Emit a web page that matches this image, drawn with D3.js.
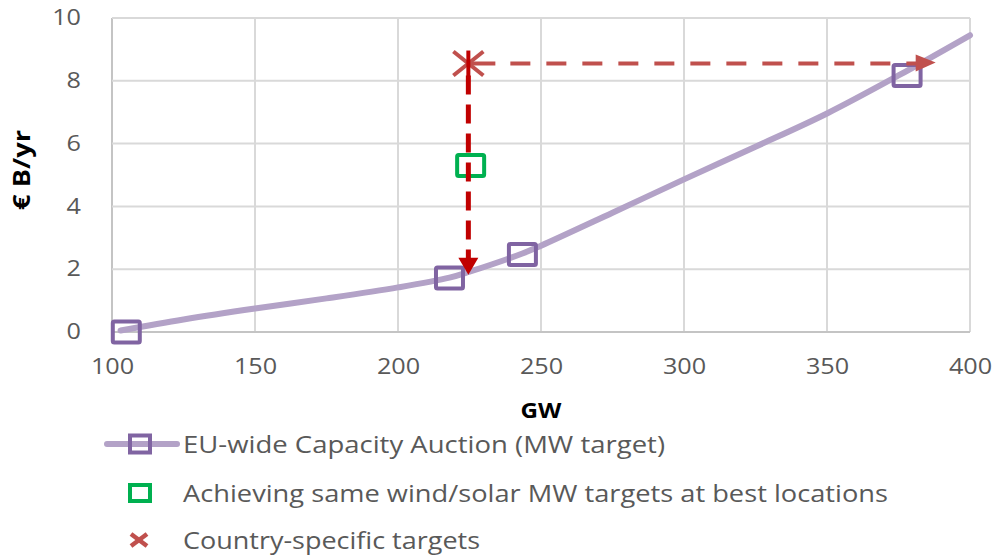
<!DOCTYPE html>
<html>
<head>
<meta charset="utf-8">
<script src="https://cdn.jsdelivr.net/npm/d3@7"></script>
<style>
  html, body { margin: 0; padding: 0; background: #fff; }
  svg { display: block; font-family: "Open Sans", "Liberation Sans", sans-serif; }
</style>
</head>
<body>
<svg id="chart" width="1002" height="555"></svg>
<script>
// Axis ticks
const xTicks = [100, 150, 200, 250, 300, 350, 400];
const yTicks = [0, 2, 4, 6, 8, 10];

// Cost curve of the EU-wide capacity auction (GW vs € B/yr)
const curveGW   = [103, 125, 150, 175, 200, 218, 225, 243.5, 250, 275, 300, 325, 350, 375, 400];
const curveCost = [0.05, 0.4, 0.75, 1.07, 1.42, 1.73, 1.92, 2.5, 2.75, 3.8, 4.86, 5.9, 6.96, 8.17, 9.45];

// Marked auction scenarios
const auctionGW   = [105, 218, 243.5, 378];
const auctionCost = [0, 1.72, 2.47, 8.17];

// Same wind/solar MW targets at best locations
const bestGW   = [225.4];
const bestCost = [5.3];

// Country-specific targets
const countryGW   = [224.6];
const countryCost = [8.55];

// Arrow ends: down to the auction curve, across to the auction of equal cost
const arrowDownCost = 1.82;
const arrowAcrossGW = 388;

const legendLabels = [
  "EU-wide Capacity Auction (MW target)",
  "Achieving same wind/solar MW targets at best locations",
  "Country-specific targets"
];

const svg = d3.select("#chart");
const m = { left: 112, top: 18, right: 970, bottom: 332 };

const x = d3.scaleLinear().domain([100, 400]).range([m.left, m.right]);
const y = d3.scaleLinear().domain([0, 10]).range([m.bottom, m.top]);

// Widen text horizontally by factor k
function stretch(sel, k) {
  sel.each(function () {
    const w = this.getComputedTextLength();
    d3.select(this).attr("textLength", w * k).attr("lengthAdjust", "spacingAndGlyphs");
  });
}

// Grid
const grid = svg.append("g");
grid.selectAll("line.v").data(xTicks).join("line")
  .attr("x1", d => x(d)).attr("x2", d => x(d))
  .attr("y1", m.top).attr("y2", m.bottom)
  .attr("stroke", d => d === 100 ? "#c4c4c4" : "#d9d9d9").attr("stroke-width", 2);
grid.selectAll("line.h").data(yTicks).join("line")
  .attr("x1", m.left).attr("x2", m.right)
  .attr("y1", d => y(d)).attr("y2", d => y(d))
  .attr("stroke", d => d === 0 ? "#c4c4c4" : "#d9d9d9").attr("stroke-width", 2);

// Axes (labels only)
const xAxis = svg.append("g").attr("transform", `translate(0,${m.bottom})`)
  .call(d3.axisBottom(x).tickValues(xTicks).tickSize(0).tickPadding(35).tickFormat(d3.format("d")));
const yAxis = svg.append("g").attr("transform", `translate(${m.left},0)`)
  .call(d3.axisLeft(y).tickValues(yTicks).tickSize(0).tickPadding(31).tickFormat(d3.format("d")));
[xAxis, yAxis].forEach(a => {
  a.select(".domain").remove();
  a.selectAll("text").attr("fill", "#595959").style("font-size", "21px")
    .style("font-family", "'Open Sans', sans-serif");
});
xAxis.selectAll("text").attr("dy", "0.32em");
stretch(xAxis.selectAll("text"), 1.2);
stretch(yAxis.selectAll("text"), 1.2);

// Axis titles
const gw = svg.append("text").attr("x", x(250)).attr("y", 418)
  .attr("text-anchor", "middle").attr("font-weight", "bold").attr("font-size", 21)
  .attr("fill", "#000").text("GW");
stretch(gw, 1.15);
svg.append("text").attr("transform", "translate(30,170) rotate(-90)")
  .attr("text-anchor", "middle").attr("font-weight", "bold").attr("font-size", 23)
  .attr("fill", "#000")
  .attr("textLength", 80).attr("lengthAdjust", "spacingAndGlyphs")
  .text("€ B/yr");

// Auction cost curve
const curveData = curveGW.map((g, i) => [g, curveCost[i]]);
svg.append("path").datum(curveData)
  .attr("d", d3.line().x(d => x(d[0])).y(d => y(d[1])).curve(d3.curveCatmullRom.alpha(0.5)))
  .attr("fill", "none").attr("stroke", "#b3a2c7").attr("stroke-width", 6)
  .attr("stroke-linecap", "round");

// Auction markers
const sqW = 27, sqH = 21;
svg.append("g").selectAll("rect").data(auctionGW.map((g, i) => [g, auctionCost[i]])).join("rect")
  .attr("x", d => x(d[0]) - sqW / 2).attr("y", d => y(d[1]) - sqH / 2)
  .attr("width", sqW).attr("height", sqH).attr("rx", 1.5)
  .attr("fill", "none").attr("stroke", "#8064a2").attr("stroke-width", 4);

// Best-location marker
svg.append("g").selectAll("rect").data(bestGW.map((g, i) => [g, bestCost[i]])).join("rect")
  .attr("x", d => x(d[0]) - sqW / 2).attr("y", d => y(d[1]) - sqH / 2)
  .attr("width", sqW).attr("height", sqH).attr("rx", 1.5)
  .attr("fill", "none").attr("stroke", "#00b050").attr("stroke-width", 4);

// Arrows from the country-specific point
const cx = x(countryGW[0]), cy = y(countryCost[0]);
const downTip = y(arrowDownCost);
svg.append("line")
  .attr("x1", cx).attr("x2", cx).attr("y1", cy + 12).attr("y2", downTip - 14)
  .attr("stroke", "#c00000").attr("stroke-width", 5).attr("stroke-dasharray", "19,10");
svg.append("path")
  .attr("d", `M${cx - 10},${downTip - 17} L${cx + 10},${downTip - 17} L${cx},${downTip} Z`)
  .attr("fill", "#c00000");

const acrossTip = x(arrowAcrossGW);
svg.append("line")
  .attr("x1", cx).attr("x2", acrossTip - 16).attr("y1", cy).attr("y2", cy)
  .attr("stroke", "#c0504d").attr("stroke-width", 4).attr("stroke-dasharray", "27,15,20,16,20,16,20,16,20,16,20,16,20,16,20,16,20,16,20,16,20,16,20,16,20,16");
svg.append("path")
  .attr("d", `M${acrossTip - 20},${cy - 9} L${acrossTip},${cy - 1} L${acrossTip - 20},${cy + 8} Z`)
  .attr("fill", "#c0504d");

// Country-specific marker (star)
const star = svg.append("g").attr("transform", `translate(${cx},${cy})`)
  .attr("stroke", "#c0504d").attr("stroke-width", 4).attr("stroke-linecap", "butt");
star.append("line").attr("x1", -15).attr("y1", -12).attr("x2", 15).attr("y2", 12);
star.append("line").attr("x1", -15).attr("y1", 12).attr("x2", 15).attr("y2", -12);
star.append("line").attr("x1", 0).attr("y1", -13).attr("x2", 0).attr("y2", 13).attr("stroke", "#c00000");

// Legend
const lgX = 140, lgText = 183;
const rows = [444, 493, 540];
const lg = svg.append("g");
lg.append("line").attr("x1", 107).attr("x2", 177).attr("y1", rows[0]).attr("y2", rows[0])
  .attr("stroke", "#b3a2c7").attr("stroke-width", 6).attr("stroke-linecap", "round");
lg.append("rect").attr("x", lgX - 10).attr("y", rows[0] - 8.5).attr("width", 20).attr("height", 17)
  .attr("fill", "none").attr("stroke", "#8064a2").attr("stroke-width", 4);
lg.append("rect").attr("x", lgX - 10).attr("y", rows[1] - 8).attr("width", 20).attr("height", 16)
  .attr("fill", "none").attr("stroke", "#00b050").attr("stroke-width", 4);
const lx = lg.append("g").attr("transform", `translate(${lgX - 1},${rows[2]})`)
  .attr("stroke", "#c0504d").attr("stroke-width", 4.5);
lx.append("line").attr("x1", -8).attr("y1", -6).attr("x2", 8).attr("y2", 6);
lx.append("line").attr("x1", -8).attr("y1", 6).attr("x2", 8).attr("y2", -6);

const legendWidths = [482, 705, 297];
lg.selectAll("text").data(legendLabels).join("text")
  .attr("x", lgText).attr("y", (d, i) => rows[i] + 9)
  .attr("font-size", 23).attr("fill", "#595959")
  .attr("textLength", (d, i) => legendWidths[i]).attr("lengthAdjust", "spacingAndGlyphs")
  .text(d => d);
</script>
</body>
</html>
